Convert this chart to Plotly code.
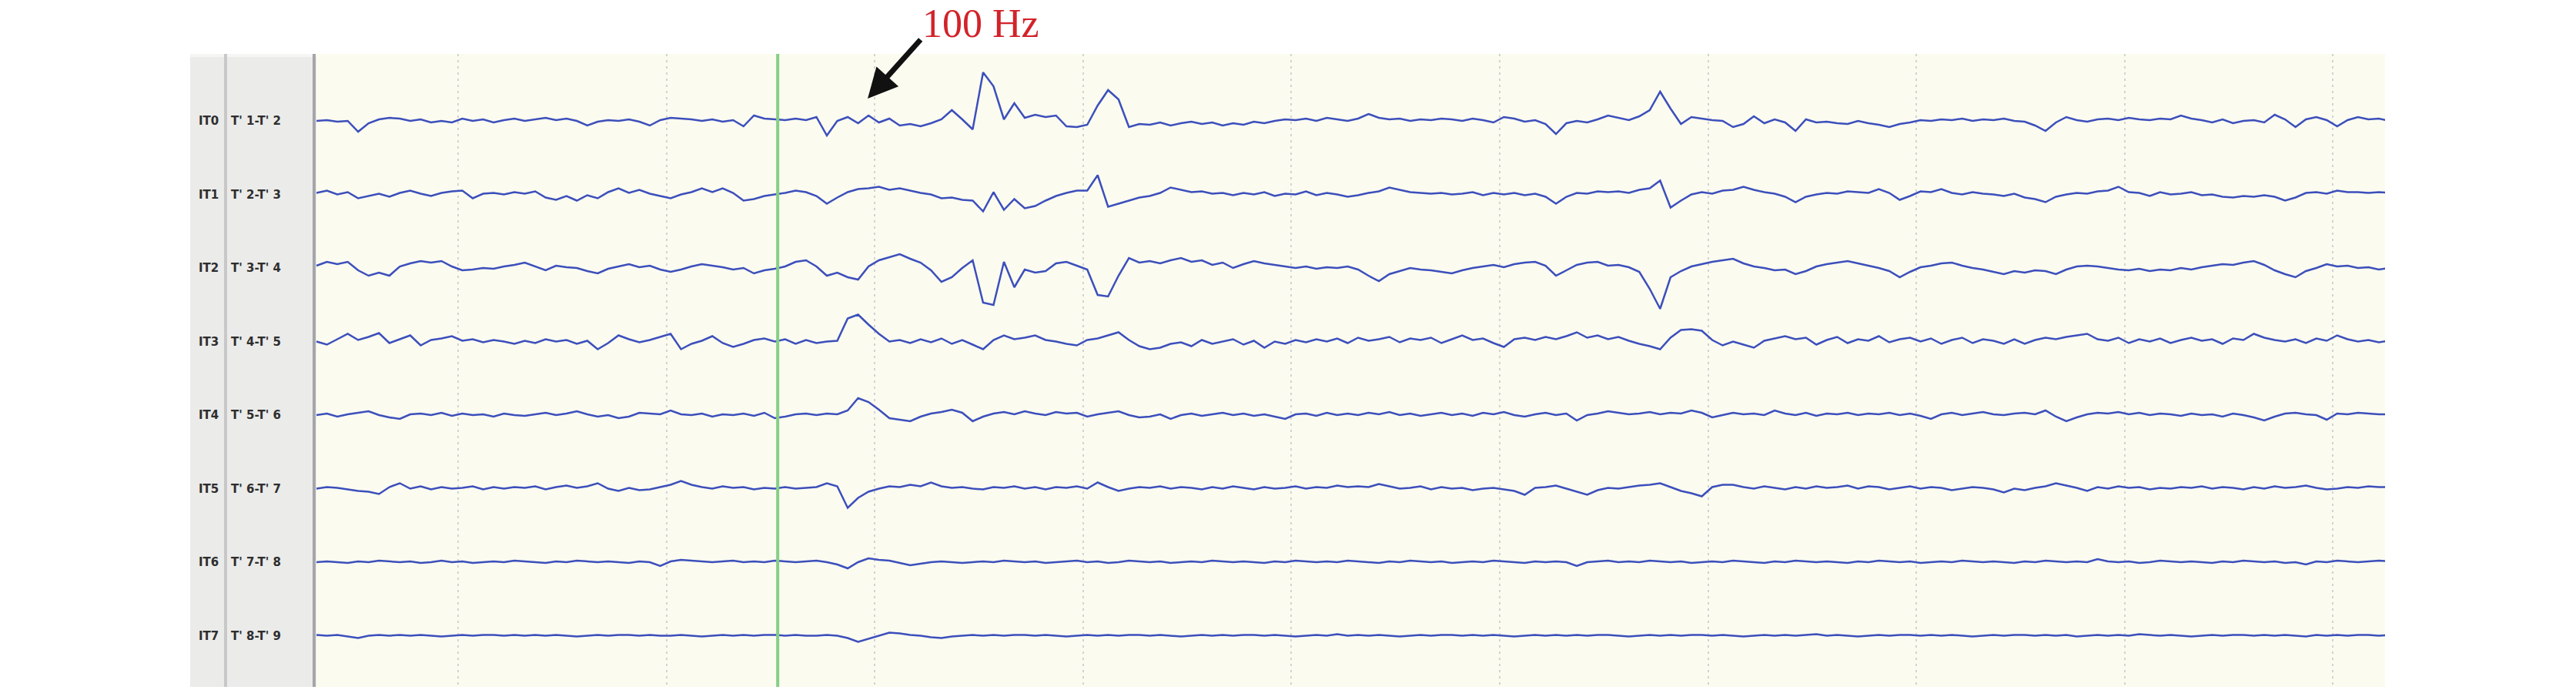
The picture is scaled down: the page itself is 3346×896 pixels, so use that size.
import numpy as np
import plotly.graph_objects as go

# ---------------- data ----------------
CHANNEL_IDS = ["IT0", "IT1", "IT2", "IT3", "IT4", "IT5", "IT6", "IT7"]
CHANNEL_NAMES = ["T' 1-T' 2", "T' 2-T' 3", "T' 3-T' 4", "T' 4-T' 5",
                 "T' 5-T' 6", "T' 6-T' 7", "T' 7-T' 8", "T' 8-T' 9"]

T_START = -0.68      # s, first sample
SAMPLE_STEP = 0.05   # s
MARKER_TIME = 1.534  # s, green cursor
ANNOT_LABEL = "100 Hz"
ARROW_TIME = 1.966   # s, where the arrow points
ARROW_LEVEL = -58    # µV on the stacked scale

ch0 = [0, 1, -1, 0, -14, -3, 2, 4, 3, 0, 2, -2, 0, -2, 3, 0, 2, -2, 1, 3,
       0, 2, 4, 1, 3, 0, -6, -1, 1, 0, 2, -1, -6, 1, 4, 3, 2, 0, 2, -1,
       1, -7, 7, 3, 2, 1, 3, 1, 5, -19, 0, 5, -3, 7, -2, 3, -6, -4, -7, -3,
       2, 14, 2, -11, 63, 45, 2, 23, 4, 8, 5, 7, -7, -8, -5, 20, 40, 28, -8, -4,
       -5, -2, -6, -3, -1, -4, -2, -6, -3, -5, -1, -3, 0, 2, 1, 3, 0, 4, 2, 0,
       3, 9, 4, 2, 3, 0, 2, 1, 3, 2, 0, 3, 1, -2, 5, 3, -1, 1, -4, -17,
       -3, 0, -2, 2, 7, 4, 1, 6, 14, 38, 16, -4, 5, 3, 1, 0, -8, -4, 6, -3,
       2, -2, -13, 2, -2, -1, -3, -4, 0, -3, -5, -8, -4, -2, 1, 0, 2, 1, 3, 0,
       2, 1, 3, 0, -1, -6, -13, -2, 5, 1, -1, 2, 3, 1, 4, 2, 1, 3, 2, 7,
       3, 1, -2, 2, -3, 0, 1, -2, 8, 2, -8, 2, 5, 1, -7, 1, 5, 2, 3, 0]

ch1 = [2, 5, 0, 3, -5, -2, 1, -3, 2, 5, 1, -2, 2, 4, 5, -5, 1, 2, 0, 3,
       1, 4, -4, -7, -2, -8, -1, -5, 3, 8, 2, 6, 1, -2, -5, 0, 3, 8, 3, 8,
       2, -8, -6, -2, 0, 2, 5, 3, -2, -12, -4, 3, 7, 8, 10, 6, 8, 5, 2, 0,
       -5, -4, -7, -8, -22, 3, -20, -6, -18, -15, -8, -2, 2, 5, 5, 25, -16, -12, -8, -4,
       -2, 2, 9, 6, 3, 4, 1, 2, -1, 2, 0, 3, -2, 1, 0, 4, -1, 2, 0, -3,
       -1, 2, 4, 9, 6, 3, 2, 1, 2, 0, 1, 3, -1, 2, 0, 2, -1, 1, -3, -12,
       -3, 2, 1, 4, 3, 4, 2, 6, 8, 18, -17, -8, 0, 3, 1, 5, 6, 10, 6, 3,
       1, -3, -10, -3, 0, 2, 1, 4, 3, 2, 7, 2, -7, -2, 4, 3, 7, 2, 0, 3,
       1, 0, -2, 1, -4, -6, -10, -3, 0, 2, 1, 4, 5, 10, 3, 2, -2, 3, 0, 1,
       3, -1, 0, -3, -4, -2, -3, -1, -3, -8, -4, 2, 3, 1, 5, 3, 3, 2, 3, 2]

ch2 = [3, 8, 5, 8, -3, -10, -6, -10, 2, 6, 9, 7, 9, 2, -3, -2, 0, -1, 2, 4,
       7, 2, -3, 3, 1, 0, -4, -7, -1, 2, 5, 1, 3, -2, -5, -2, 2, 5, 3, 1,
       -2, 0, -7, -3, -1, 2, 8, 10, 2, -10, -6, -12, -15, 2, 10, 14, 18, 12, 7, -3,
       -18, -12, 0, 10, -45, -48, 8, -25, -2, -6, -4, 6, 8, 3, -2, -35, -37, -10, 13, 7,
       9, 6, 10, 13, 8, 10, 4, 7, 0, 5, 9, 6, 4, 2, 0, 2, -1, 1, 0, 2,
       -2, -10, -17, -8, -4, 0, -2, -3, -5, -7, -3, 0, 2, 4, 1, 5, 7, 8, 3, -10,
       -3, 4, 7, 8, 3, 4, 1, -5, -27, -53, -12, -4, 2, 5, 8, 10, 12, 6, 2, 0,
       -3, -2, -8, -4, 2, 5, 7, 9, 6, 3, 0, -4, -12, -5, 1, 3, 6, 7, 3, 0,
       -2, -5, -8, -4, -6, -3, -4, -8, -2, 2, 3, 2, 0, -2, -3, -1, -4, -2, -3, 0,
       -2, 1, 3, 5, 4, 7, 9, 4, -3, -8, -12, -4, 0, 5, 2, 3, 0, 1, -2, 0]

ch3 = [0, -4, 3, 10, 2, 6, 11, -2, 3, 8, -5, 2, 4, 7, 1, 3, -1, 2, 0, -3,
       1, -2, 3, 0, 2, -3, 1, -10, -2, 8, 3, -1, 2, 6, 10, -10, -3, 1, 7, -2,
       -7, -3, 2, 4, 0, 3, -3, 2, -2, 0, 1, 30, 35, 22, 10, 0, 2, -2, 3, -1,
       4, -3, 2, -4, -10, 2, 8, 3, 5, 8, 2, 0, -3, -5, 2, 4, 8, 12, 2, -6,
       -10, -8, -3, -1, -6, 2, -3, 0, 3, -4, 1, -8, 0, -3, 2, -1, 3, 0, 4, -2,
       5, 1, 3, 6, -1, 4, 2, 5, -2, 3, 8, 2, 4, -2, -7, 3, 5, 2, 6, 3,
       7, 12, 5, 8, 3, 6, 1, -3, -6, -10, 5, 15, 16, 14, 2, -5, 0, -4, -8, 1,
       4, 7, 3, 5, -4, 2, 6, -2, 3, 1, 7, -1, 3, 5, 0, 4, -3, 2, 5, -2,
       3, 1, -3, 3, -3, 2, 5, 3, 6, 8, 10, 3, 1, 5, -2, 3, 0, 4, -2, 2,
       5, 1, 3, -3, 4, 2, 10, 5, 2, 0, 3, -2, 4, 1, 8, 3, 0, 2, -1, 1]

ch4 = [0, 2, -2, 1, 3, 5, 0, -3, -5, 1, 2, 0, 3, -1, 2, 0, 1, -2, 2, 0,
       -1, 1, 3, 0, 2, 5, 1, -2, 0, -4, -2, 3, 2, 1, 6, 1, 0, 2, -2, 1,
       0, 2, -1, 3, -4, -2, 1, 2, 0, 2, 1, 6, 22, 17, 7, -4, -6, -8, -2, 2,
       4, 7, 3, -8, -2, 2, 4, 1, 5, 2, 0, 4, 2, 3, -2, 1, 3, 5, 0, -3,
       -2, 1, -5, 0, 2, -1, 1, 3, 0, 2, -1, 1, -2, -5, 1, 2, -1, 3, 0, 2,
       0, 3, 1, 4, 0, 2, -1, 1, 3, 0, 2, -1, 3, 1, 4, 0, -2, 1, 3, 0,
       2, -7, 0, 2, 5, 3, 1, 2, 4, 1, 3, 2, 6, 3, -3, 0, 3, 1, 2, 0,
       6, 2, 0, 3, -1, 2, 1, 3, 0, 2, 1, 3, 0, 2, -1, -5, 1, 3, 0, 2,
       4, 1, 0, 2, 3, 1, 6, -2, -8, -3, 1, 3, 2, 4, 1, 3, 0, 2, 1, -1,
       2, 0, 1, -2, 2, 0, -3, -7, -2, 2, 3, 1, 0, -6, 2, 1, 3, 2, 1, 1]

ch5 = [0, 2, 1, -1, -3, -4, -7, 2, 7, 0, 3, -1, 2, 0, 1, 3, -1, 2, 0, 2,
       1, 3, -1, 2, 4, 1, 3, 7, 0, -3, 1, -2, -1, 2, 5, 10, 5, 2, 0, 3,
       1, 2, -1, 1, 0, 2, 0, 1, 2, 7, 3, -25, -12, -4, 0, 3, 2, 5, 3, 8,
       3, 1, 2, 0, -1, 2, 1, 3, 0, 2, -1, 2, 1, 3, 0, 8, 2, -3, 0, 2,
       1, 3, 0, 2, 1, -1, 2, 0, 3, 1, -1, 2, 0, 1, 3, 0, 2, 1, 4, 2,
       3, 2, 6, 3, 0, 1, 3, -1, 2, 0, 1, -2, 0, 1, -1, -3, -8, 1, 2, 4,
       0, -4, -8, -2, 1, 0, 2, 4, 5, 7, 2, -3, -6, -10, 2, 5, 5, 2, 0, 3,
       1, -1, 2, 0, 3, 1, 2, 4, 0, 3, 2, -1, 1, 3, 0, 2, 1, -2, 0, 2,
       1, -1, -5, 0, -2, 1, 3, 7, 4, 1, -3, 2, 0, 3, 1, 2, -1, 1, 0, 2,
       1, 3, 0, 2, 1, -1, 2, 0, 3, 1, 2, 4, 1, -1, 0, 2, 1, 3, 2, 2]

ch6 = [0, 1, 0, -1, 1, 0, 2, 1, 0, 1, -1, 0, 2, 0, 1, -1, 0, 1, 0, 2,
       1, 0, -1, 1, 0, 2, 1, 0, 1, 0, -1, 1, 0, -5, 1, 3, 2, 1, 0, 1,
       2, 0, 1, 0, 2, 1, 0, 1, 2, 0, -3, -8, 0, 5, 3, 2, -1, -4, -2, 0,
       1, 0, -1, 0, 1, 0, 2, 1, 0, 1, -1, 0, 1, 2, 0, 1, -1, 0, 2, 1,
       0, 1, -1, 0, 1, 0, 2, 1, 0, 1, 0, -1, 1, 0, 2, 1, 0, 1, 0, 2,
       1, 0, -1, 1, 0, 2, 1, 0, 1, -1, 0, 1, 0, 2, 1, 0, -1, 1, 0, 1,
       0, -5, 0, 1, 2, 0, 1, 0, 2, 1, 0, 1, -1, 0, 1, 0, 2, 1, 0, -1,
       1, 0, 2, 1, 0, 1, 0, -1, 1, 0, 2, 1, 0, 1, -1, 0, 1, 0, 2, 1,
       0, 1, 0, -1, 1, 0, 2, 1, 0, 1, 0, 4, 1, 0, 1, -1, 0, 2, 1, 0,
       1, 0, -1, 1, 0, 2, 1, 0, 1, -1, 0, -3, 1, 0, 2, 1, 0, 1, 2, 1]

ch7 = [1, 0, 1, -1, -3, 0, 1, 0, 1, 0, 1, 0, -1, 0, 1, 0, 1, 1, 0, 1,
       0, 1, 0, 1, 0, -1, 0, 1, 0, 1, 1, 0, 1, 0, 0, 1, 0, -1, 0, 1,
       0, 1, 0, 1, 1, 0, 1, 0, 0, 1, 0, -3, -8, -4, 0, 4, 3, 1, 0, -2,
       -3, -1, 0, 1, 0, 1, 0, 1, 1, 0, 1, 0, -1, 0, 1, 0, 1, 0, 1, 1,
       0, 1, 0, -1, 0, 1, 0, 1, 0, 1, 1, 0, 1, 0, -1, 0, 1, 0, 2, 0,
       1, 0, 1, 0, -1, 0, 1, 0, 1, 1, 0, 1, 0, 1, 0, -1, 0, 1, 0, 1,
       0, 1, 0, 1, 1, 0, -1, 0, 1, 0, 1, 0, 1, 1, 0, 1, 0, -1, 0, 1,
       0, 1, 0, 1, 2, 0, 1, 0, -1, 0, 1, 0, 1, 1, 0, 1, 0, 1, 0, -1,
       0, 1, 0, 1, 1, 0, 1, 0, 1, -1, 0, 1, 0, 1, 0, 2, 1, 0, 1, 0,
       -1, 0, 1, 0, 1, 1, 0, 1, 0, 1, 0, -1, 1, 0, 1, 0, 1, 1, 0, 1]

SIGNALS = [ch0, ch1, ch2, ch3, ch4, ch5, ch6, ch7]

# ---------------- layout constants ----------------
W, H = 3346, 896
PLOT_L, PLOT_R, PLOT_T, PLOT_B = 410, 3098, 70, 892
X_RANGE = [-0.684, 9.25]
Y_RANGE = [-(PLOT_B - PLOT_T), 0]
FIRST_OFFSET = -87.0
SPACING = 95.5

TRACE_COLOR = "#3c4fbb"
BG_COLOR = "#fbfbf0"


def px_x(p):
    return (p - PLOT_L) / (PLOT_R - PLOT_L)


def px_y(p):
    return 1 - (p - PLOT_T) / (PLOT_B - PLOT_T)


n = len(ch0)
time = T_START + SAMPLE_STEP * np.arange(n)

fig = go.Figure()
for i, sig in enumerate(SIGNALS):
    off = FIRST_OFFSET - i * SPACING
    fig.add_trace(go.Scatter(
        x=time, y=np.array(sig, dtype=float) + off, mode="lines",
        line=dict(color=TRACE_COLOR, width=2.5), name=CHANNEL_NAMES[i],
        showlegend=False, hoverinfo="skip"))

shapes = [
    # label panel
    dict(type="rect", xref="paper", yref="paper", x0=px_x(247), x1=px_x(411),
         y0=px_y(PLOT_B), y1=px_y(PLOT_T), fillcolor="#ebebea", line=dict(width=0), layer="below"),
    dict(type="rect", xref="paper", yref="paper", x0=px_x(247), x1=px_x(411),
         y0=px_y(74), y1=px_y(PLOT_T), fillcolor="#f5f5f4", line=dict(width=0), layer="below"),
    dict(type="line", xref="paper", yref="paper", x0=px_x(293), x1=px_x(293),
         y0=px_y(PLOT_B), y1=px_y(PLOT_T), line=dict(color="#c8c8c8", width=4)),
    dict(type="line", xref="paper", yref="paper", x0=px_x(408), x1=px_x(408),
         y0=px_y(PLOT_B), y1=px_y(PLOT_T), line=dict(color="#a6a6aa", width=4)),
    # green cursor
    dict(type="line", xref="x", yref="paper", x0=MARKER_TIME, x1=MARKER_TIME,
         y0=0, y1=1, line=dict(color="#86cf86", width=4)),
]

annotations = []
for i in range(len(SIGNALS)):
    off = FIRST_OFFSET - i * SPACING
    annotations.append(dict(xref="paper", yref="y", x=px_x(256), y=off,
                            text=CHANNEL_IDS[i], showarrow=False, xanchor="left", yanchor="middle",
                            font=dict(family="DejaVu Sans", size=15, color="#2e2e2e", weight="bold")))
    annotations.append(dict(xref="paper", yref="y", x=px_x(298), y=off,
                            text=CHANNEL_NAMES[i], showarrow=False, xanchor="left", yanchor="middle",
                            font=dict(family="DejaVu Sans", size=15, color="#2e2e2e", weight="bold")))

# "100 Hz" label
annotations.append(dict(xref="paper", yref="paper", x=px_x(1274), y=px_y(30),
                        text=ANNOT_LABEL, showarrow=False, xanchor="center", yanchor="middle",
                        font=dict(family="Liberation Serif", size=52, color="#d2232a")))
# arrow
annotations.append(dict(xref="x", yref="y", x=ARROW_TIME, y=ARROW_LEVEL, text="",
                        showarrow=True, axref="pixel", ayref="pixel", ax=70, ay=-78,
                        arrowhead=2, arrowsize=1.1, arrowwidth=7, arrowcolor="#111111",
                        standoff=0, startstandoff=0))

fig.update_layout(
    width=W, height=H, autosize=False,
    margin=dict(l=PLOT_L, r=W - PLOT_R, t=PLOT_T, b=H - PLOT_B, pad=0),
    paper_bgcolor="white", plot_bgcolor=BG_COLOR,
    shapes=shapes, annotations=annotations, showlegend=False,
    xaxis=dict(range=X_RANGE, tick0=0, dtick=1, showgrid=True, gridcolor="#d3d3d3",
               gridwidth=2, griddash="3px,5px", showticklabels=False, ticks="",
               zeroline=False, showline=False, fixedrange=True),
    yaxis=dict(range=Y_RANGE, showgrid=False, showticklabels=False, ticks="",
               zeroline=False, showline=False, fixedrange=True),
)

fig.write_html("out.html", config={"displayModeBar": False},
               post_script="document.body.style.margin='0px';")
